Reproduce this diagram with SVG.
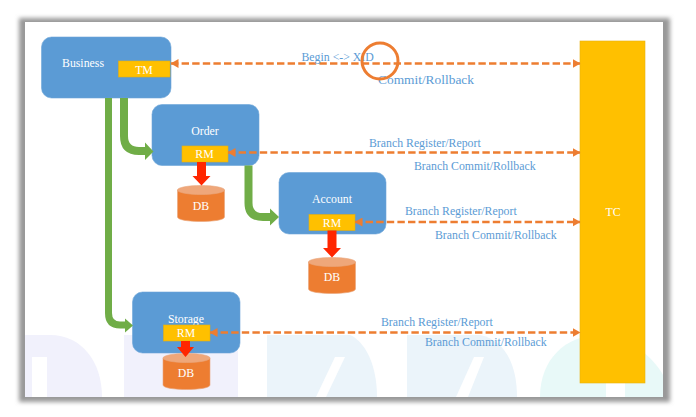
<svg xmlns="http://www.w3.org/2000/svg" width="696" height="417" viewBox="0 0 696 417">
<style>
text{font-family:"Liberation Serif","Times New Roman",serif}
.n{fill:#5b9bd5;stroke:#6fa6d9;stroke-width:.6}
.y{fill:#ffc000;stroke:#e3ae12;stroke-width:.6}
.w{fill:#fff;font-size:11.8px;text-anchor:middle}
.l{fill:#5b9bd5;font-size:11.8px}
.d{fill:none;stroke:#ed7d31;stroke-width:2.5;stroke-dasharray:7.4 3.2}
.g{fill:none;stroke:#70ad47}
.r{fill:#ff2600}
.c{fill:#ed7d31;stroke:#e9a67c;stroke-width:.6}
.t{fill:#efa77a;stroke:#e9a67c;stroke-width:.6}
</style>
<defs>
<filter id="b" x="-5%" y="-5%" width="110%" height="110%"><feGaussianBlur stdDeviation="2"/></filter>
<marker id="o" markerUnits="userSpaceOnUse" markerWidth="8" markerHeight="9" refX="7.500" refY="4.500" orient="auto-start-reverse"><path d="M0 0L8 4.500L0 9Z" fill="#ed7d31"/></marker>
<g id="dbshape"><path class="c" d="M0 5V32C0 38 47 38 47 32V5Z"/><ellipse class="t" cx="23.500" cy="5" rx="23.500" ry="4.500"/></g>
</defs>
<rect width="696" height="417" fill="#fff"/>
<rect x="19" y="18" width="651" height="384" fill="#999" filter="url(#b)"/>
<rect x="25" y="22" width="638" height="375" fill="#fff"/>
<g id="watermark">
<path d="M25 335H50C82 335 102 362 102 397H25Z" fill="#f1f1fc"/>
<path d="M32 397V368H46V357H32Z" fill="#fff"/>
<rect x="32" y="357" width="15" height="40" fill="#fff"/>
<rect x="124" y="335" width="114" height="62" fill="#f1f1fc"/>
<path d="M267 335H350C362 340 377 360 377 397H267Z" fill="#ebf4fa"/>
<path d="M316 397L335 357H345L326 397Z" fill="#fff"/>
<path d="M407 335H480C505 340 517 365 517 397H407Z" fill="#ebf4fa"/>
<path d="M456 397L474 357H484L468 397Z" fill="#fff"/>
<path d="M540 397C540 360 565 335 600 335C630 335 655 360 663 375V397Z" fill="#e8f9f8"/>
<rect x="606" y="383" width="19" height="14" fill="#fff"/>
</g>
<g id="business"><rect class="n" x="41.500" y="37" width="129.500" height="61" rx="10"/><text class="w" x="83" y="67">Business</text></g>
<g id="tm"><rect class="y" x="118.500" y="61" width="51.500" height="16"/><text class="w" x="144" y="73.500">TM</text></g>
<g id="order"><rect class="n" x="152" y="104.500" width="107" height="61" rx="10"/><text class="w" x="205" y="135">Order</text></g>
<g id="rm1"><rect class="y" x="182" y="146" width="46" height="16"/><text class="w" x="204.500" y="158">RM</text></g>
<g id="account"><rect class="n" x="279" y="172.500" width="107" height="61.500" rx="10"/><text class="w" x="332" y="203">Account</text></g>
<g id="rm2"><rect class="y" x="309" y="214.500" width="46" height="16"/><text class="w" x="332" y="226.500">RM</text></g>
<g id="storage"><rect class="n" x="132.500" y="292" width="107.500" height="61" rx="10"/><text class="w" x="186" y="323">Storage</text></g>
<g id="rm3"><rect class="y" x="163.500" y="325" width="46.500" height="16"/><text class="w" x="186" y="337">RM</text></g>
<g id="db1"><use href="#dbshape" x="177.500" y="185"/><text class="w" x="201" y="210">DB</text></g>
<g id="db2"><use href="#dbshape" x="308.500" y="257"/><text class="w" x="332" y="281">DB</text></g>
<g id="db3"><use href="#dbshape" x="163" y="353"/><text class="w" x="186" y="377">DB</text></g>
<g id="tc"><rect x="580" y="41" width="65" height="342" fill="#ffc000" stroke="#e8b10f" stroke-width=".6"/><text class="w" x="613" y="216">TC</text></g>
<g id="connectors">
<path class="g" stroke-width="7" d="M108.500 98V313Q108.500 325 120 325H126"/>
<path d="M125 318.500L133 325.500L125 332.500Z" fill="#70ad47"/>
<path class="g" stroke-width="8" d="M124 98V136Q124 151 139 151H146"/>
<path d="M145 142.500L153.500 151.500L145 160Z" fill="#70ad47"/>
<path class="g" stroke-width="8" d="M248.500 165.500V203Q248.500 217 263 217H271"/>
<path d="M270 208.500L279 217L270 225.500Z" fill="#70ad47"/>
<path class="r" d="M197 162H206V176H210.500L201.500 185.500L192.500 176H197Z"/>
<path class="r" d="M327.500 230.500H336.500V248H341L332 257.500L323 248H327.500Z"/>
<path class="r" d="M181 341H190V347H194L185.500 357L177 347H181Z"/>
<path class="d" d="M171 63.500H580" marker-start="url(#o)" marker-end="url(#o)"/>
<path class="d" d="M228 152.500H580" marker-start="url(#o)" marker-end="url(#o)"/>
<path class="d" d="M355 222H580" marker-start="url(#o)" marker-end="url(#o)"/>
<path class="d" d="M210 332.500H580" marker-start="url(#o)" marker-end="url(#o)"/>
</g>
<g id="labels">
<text class="l" x="301.500" y="61">Begin &lt;-&gt; XID</text>
<text class="l" x="378" y="84" style="font-size:13.400px">Commit/Rollback</text>
<text class="l" x="369" y="147">Branch Register/Report</text>
<text class="l" x="414" y="170">Branch Commit/Rollback</text>
<text class="l" x="405" y="215">Branch Register/Report</text>
<text class="l" x="435" y="239">Branch Commit/Rollback</text>
<text class="l" x="381" y="326">Branch Register/Report</text>
<text class="l" x="425" y="346">Branch Commit/Rollback</text>
</g>
<circle cx="380" cy="61" r="18" fill="none" stroke="#ed7d31" stroke-width="3"/>
</svg>
